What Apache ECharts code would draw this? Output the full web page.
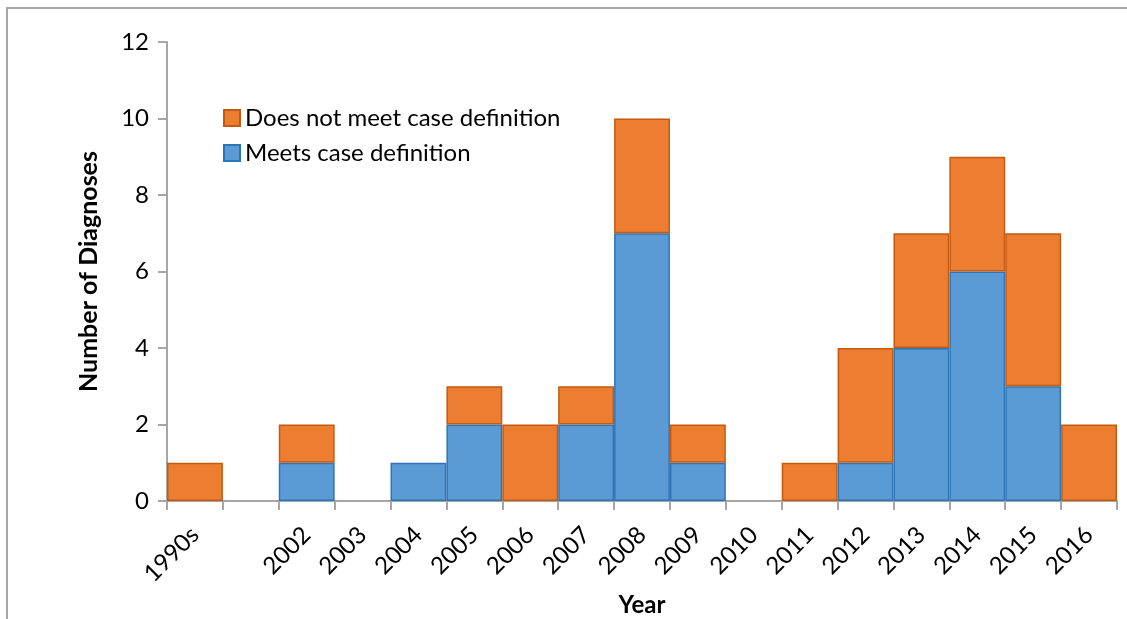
<!DOCTYPE html>
<html><head><meta charset="utf-8">
<script src="https://cdn.jsdelivr.net/npm/echarts@6/dist/echarts.min.js"></script>
<style>html,body{margin:0;padding:0;background:#fff}#c{width:1127px;height:619px}</style>
</head><body><div id="c"></div>
<script>
const categories = ['1990s','','2002','2003','2004','2005','2006','2007','2008','2009','2010','2011','2012','2013','2014','2015','2016'];
const meets = [0,0,1,0,1,2,0,2,7,1,0,0,1,4,6,3,0];
const notMeets = [1,0,1,0,0,1,2,1,3,1,0,1,3,3,3,4,2];
const yTicks = {min:0, max:12, interval:2};
const FONT = 'Lato';
const hideZero = v => (v === 0 ? '-' : v);
const chart = echarts.init(document.getElementById('c'));
chart.setOption({
  animation:false,
  textStyle:{fontFamily:FONT},
  grid:{left:167, right:10, top:42, bottom:118, containLabel:false, outerBoundsMode:'none'},
  legend:{
    left:218, top:101, orient:'vertical', itemWidth:16, itemHeight:16, itemGap:11,
    icon:'rect',
    data:['Does not meet case definition','Meets case definition'],
    textStyle:{fontFamily:FONT, fontSize:24, color:'#000'}
  },
  xAxis:{
    type:'category', data:categories,
    axisLine:{lineStyle:{color:'#a6a6a6', width:2}},
    axisTick:{show:true, length:9, lineStyle:{color:'#a6a6a6', width:2}},
    axisLabel:{rotate:45, interval:0, fontSize:24, color:'#000', margin:30, fontFamily:FONT},
    name:'Year', nameLocation:'middle', nameGap:92,
    nameTextStyle:{fontFamily:FONT, fontSize:24, fontWeight:'bold', color:'#000'}
  },
  yAxis:{
    type:'value', min:yTicks.min, max:yTicks.max, interval:yTicks.interval,
    axisLine:{show:true, lineStyle:{color:'#a6a6a6', width:2}},
    axisTick:{show:true, length:9, lineStyle:{color:'#a6a6a6', width:2}},
    splitLine:{show:false},
    axisLabel:{fontSize:24, color:'#000', margin:18, fontFamily:FONT},
    name:'Number of Diagnoses', nameLocation:'middle', nameGap:66,
    nameTextStyle:{fontFamily:FONT, fontSize:25, fontWeight:'bold', color:'#000'}
  },
  series:[
    {name:'Meets case definition', type:'bar', stack:'a', data:meets.map(hideZero), barCategoryGap:'0%',
     itemStyle:{color:'#5B9BD5', borderColor:'#2E75B6', borderWidth:1.5}},
    {name:'Does not meet case definition', type:'bar', stack:'a', data:notMeets.map(hideZero), barCategoryGap:'0%',
     itemStyle:{color:'#ED7D31', borderColor:'#C55A11', borderWidth:1.5}}
  ],
  graphic:[
    {type:'polyline', shape:{points:[[7,619],[7,8],[1127,8]]}, style:{stroke:'#a6a6a6', lineWidth:2, fill:null}}
  ]
});
</script></body></html>
